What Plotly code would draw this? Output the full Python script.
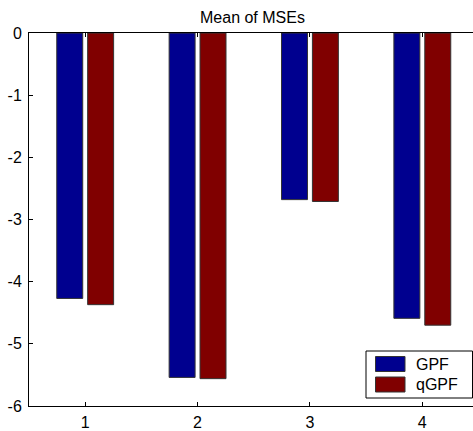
import plotly.graph_objects as go

categories = [1, 2, 3, 4]
gpf = [-4.27, -5.54, -2.68, -4.59]
qgpf = [-4.37, -5.56, -2.71, -4.70]
series_names = ["GPF", "qGPF"]
ytick_vals = [0, -1, -2, -3, -4, -5, -6]
ytick_text = ["0", "-1", "-2", "-3", "-4", "-5", "-6"]

BLUE = "#00008F"
RED = "#800000"
FONT = "Liberation Sans, Arial, Helvetica, sans-serif"
FS = 16

W, H = 473, 431
L, R, T, B = 29, 0, 33, 25

fig = go.Figure()
fig.add_trace(go.Bar(x=categories, y=gpf, name=series_names[0], width=0.231, offset=-0.253,
                     marker=dict(color=BLUE, line=dict(color="#333333", width=1)), showlegend=False))
fig.add_trace(go.Bar(x=categories, y=qgpf, name=series_names[1], width=0.231, offset=0.022,
                     marker=dict(color=RED, line=dict(color="#333333", width=1)), showlegend=False))

fig.update_layout(
    width=W, height=H,
    margin=dict(l=L, r=R, t=T, b=B, pad=0),
    paper_bgcolor="white", plot_bgcolor="white",
    font=dict(family=FONT, size=FS, color="black"),
    xaxis=dict(range=[0.5, 4.451], tickvals=categories, ticktext=[str(c) for c in categories],
               ticks="inside", ticklen=4, tickcolor="black", showline=True, linecolor="black",
               linewidth=1, mirror="ticks", showgrid=False, zeroline=False,
               tickfont=dict(size=FS, family=FONT), ticklabelstandoff=2),
    yaxis=dict(range=[-6, 0], tickvals=ytick_vals, ticktext=ytick_text,
               ticks="inside", ticklen=4, tickcolor="black", showline=True, linecolor="black",
               linewidth=1, mirror=False, showgrid=False, zeroline=False,
               tickfont=dict(size=FS, family=FONT), ticklabelstandoff=3),
)

fig.add_annotation(text="Mean of MSEs", xref="paper", yref="paper", x=0.5045, y=1,
                   yshift=16, showarrow=False, xanchor="center", yanchor="middle",
                   font=dict(size=FS, family=FONT))

# custom legend (box, swatches, labels); coordinates given in page pixels
def px_x(px):
    return (px - L) / (W - L - R)

def px_y(py):
    return (H - B - py) / (H - T - B)

fig.add_shape(type="rect", xref="paper", yref="paper",
              x0=px_x(366), x1=px_x(472.5), y0=px_y(398), y1=px_y(351),
              line=dict(color="black", width=1), fillcolor="white", layer="above")
for i, (nm, col) in enumerate(zip(series_names, [BLUE, RED])):
    top = 356.5 + i * 20.5
    fig.add_shape(type="rect", xref="paper", yref="paper",
                  x0=px_x(375.5), x1=px_x(405), y0=px_y(top + 15), y1=px_y(top),
                  line=dict(color="#333333", width=1), fillcolor=col, layer="above")
    fig.add_annotation(text=nm, xref="paper", yref="paper", x=px_x(414), y=px_y(top + 7.5),
                       showarrow=False, xanchor="left", yanchor="middle",
                       font=dict(size=FS, family=FONT))

fig.write_html(
    "out.html",
    config={"displayModeBar": False},
    post_script="document.body.style.margin='0';document.body.style.overflow='hidden';",
)
